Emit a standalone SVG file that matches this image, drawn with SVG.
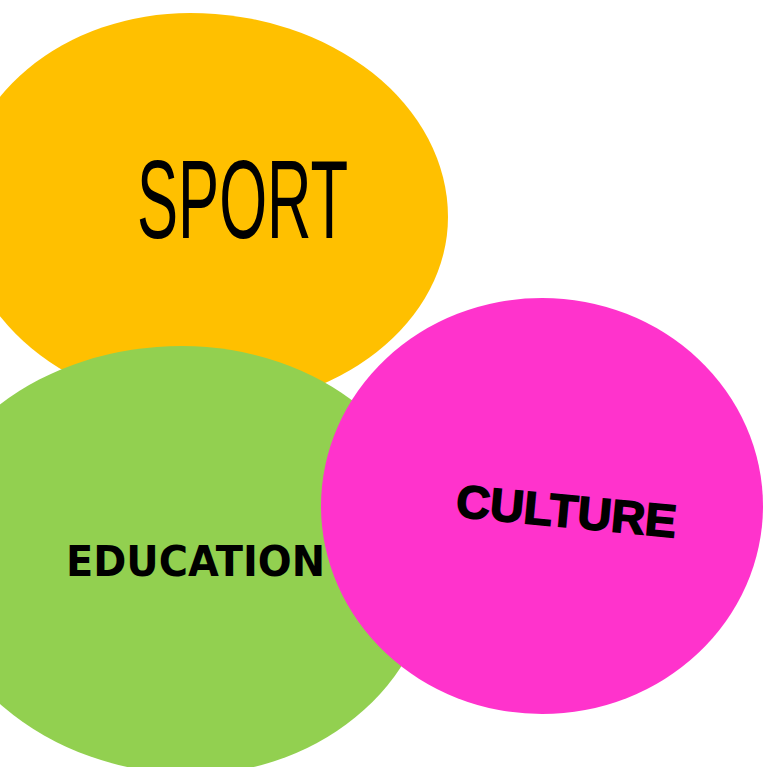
<svg xmlns="http://www.w3.org/2000/svg" width="763" height="767" viewBox="0 0 763 767">
<style>
.lbl{fill:#000;}
.sport{font-family:"Liberation Sans Narrow","Liberation Sans",sans-serif;font-size:112px;}
.edu{font-family:"DejaVu Sans","Liberation Sans",sans-serif;font-weight:bold;font-size:42px;}
.cul{font-family:"Liberation Sans",Arial,sans-serif;font-weight:bold;font-size:46px;stroke:#000;stroke-width:1.6px;}
</style>
<rect width="763" height="767" fill="#ffffff"/>
<g id="sport">
<path d="M190,13 A258,204 0 0 1 448,217 A243,191 0 0 1 205,408 A245,203 0 0 1 -40,205 A230,192 0 0 1 190,13 Z" fill="#FFC000"/>
<text class="lbl sport" x="137" y="238" textLength="211" lengthAdjust="spacingAndGlyphs">SPORT</text>
</g>
<g id="education">
<path d="M182,346 A253,209 0 0 1 435,555 A242,219 0 0 1 193,774 A268,229 0 0 1 -75,545 A257,199 0 0 1 182,346 Z" fill="#92D050"/>
<text class="lbl edu" x="66" y="576" textLength="259" lengthAdjust="spacingAndGlyphs">EDUCATION</text>
</g>
<g id="culture">
<ellipse cx="542" cy="506" rx="221" ry="208" fill="#FF33CC"/>
<text class="lbl cul" x="565" y="527" text-anchor="middle" textLength="221" lengthAdjust="spacingAndGlyphs" transform="rotate(5.4 565 527)">CULTURE</text>
</g>
<g id="connectors"/>
</svg>
